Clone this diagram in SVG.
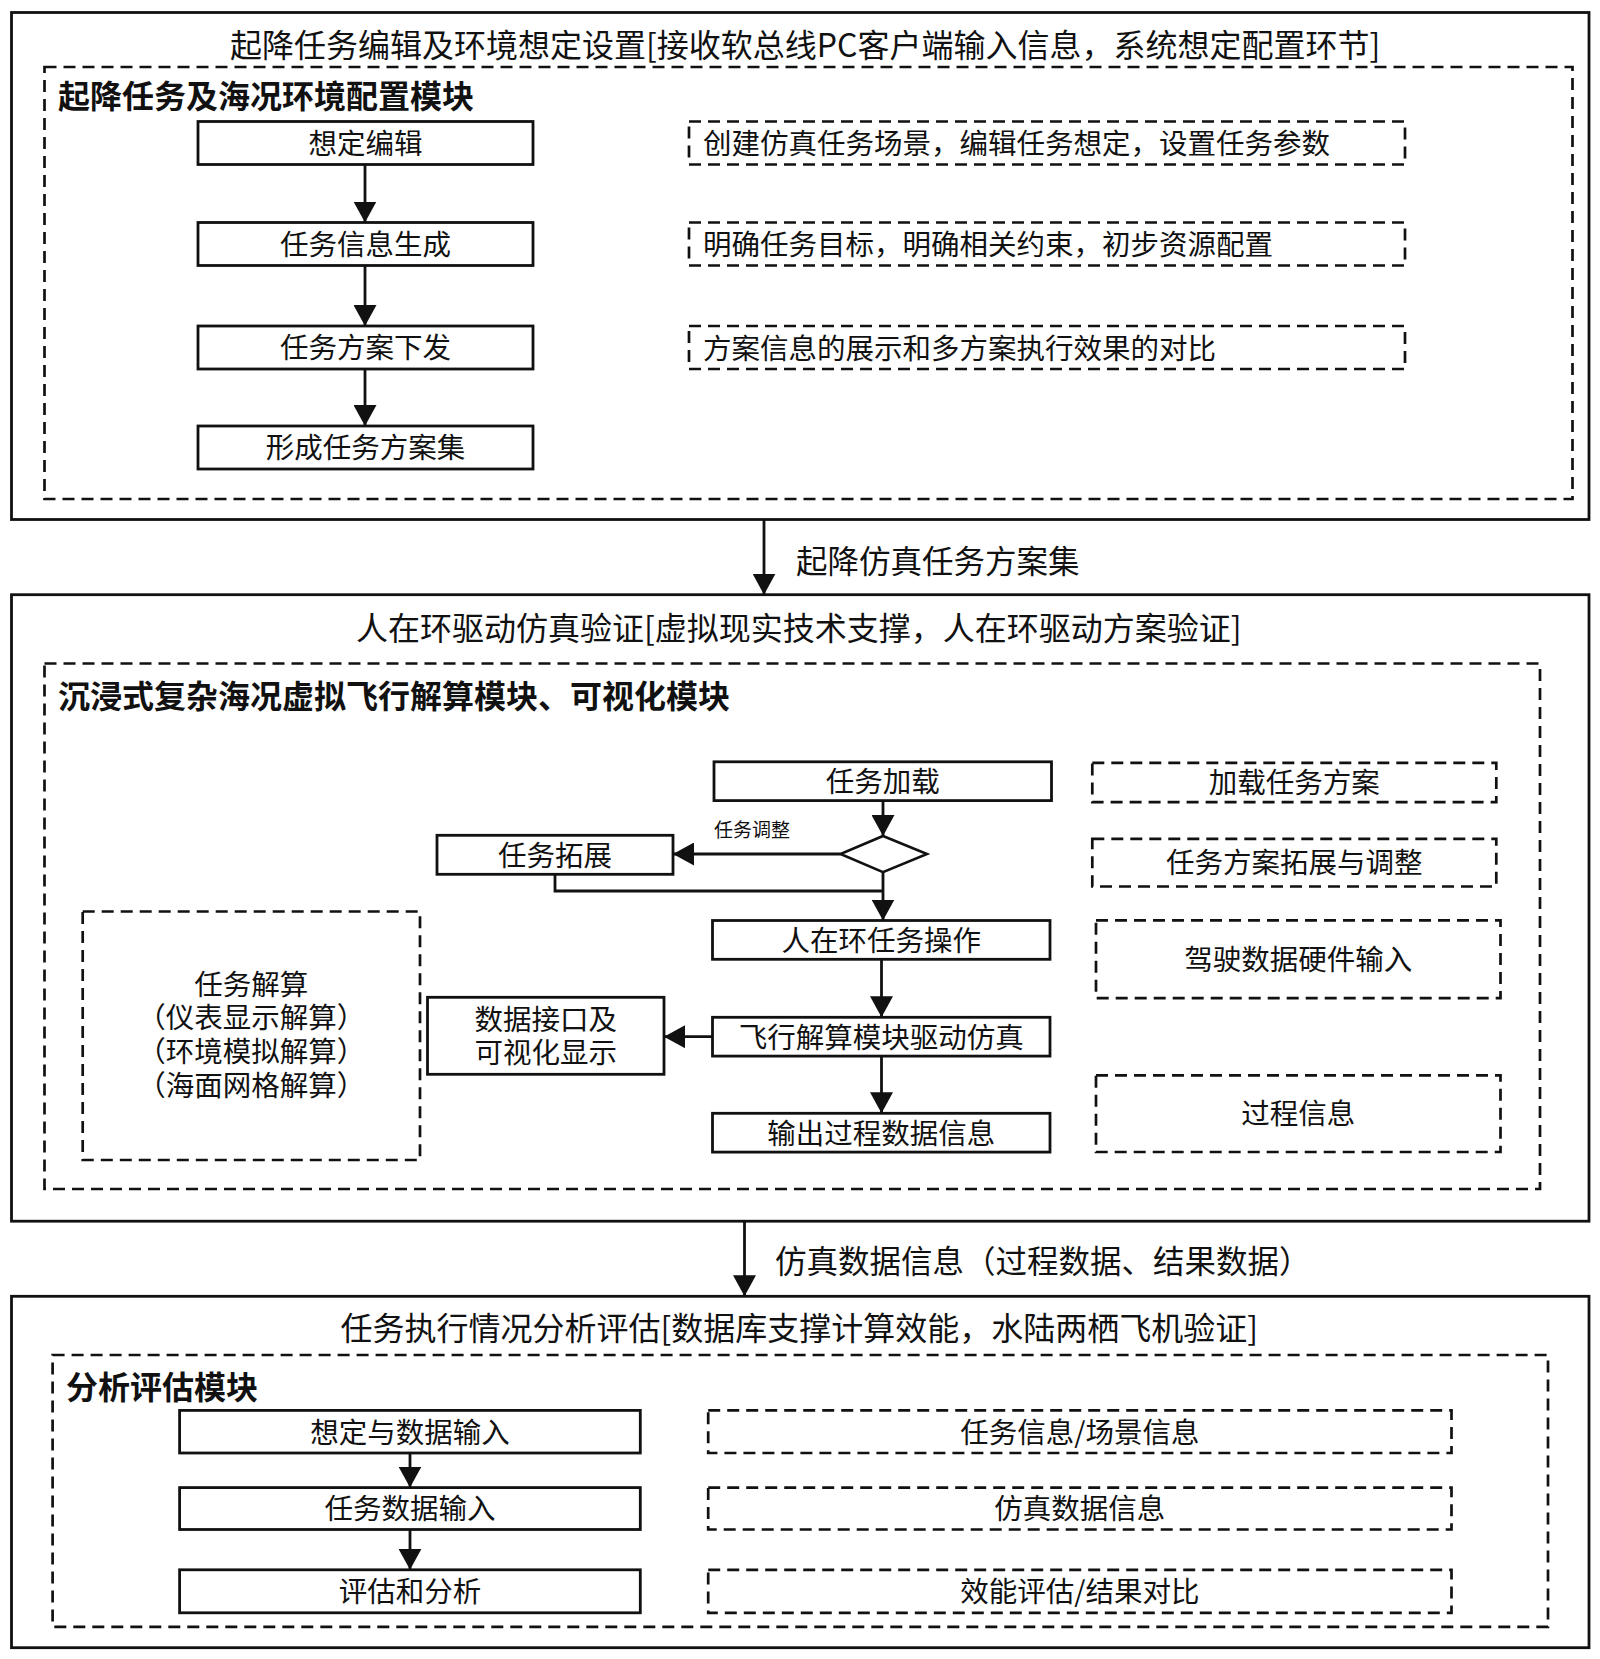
<svg xmlns="http://www.w3.org/2000/svg" width="1600" height="1659" viewBox="0 0 1600 1659">
<defs>
<style>
text{font-family:"Noto Sans CJK SC","Noto Sans",sans-serif;fill:#111;}
.sec{fill:#fff;stroke:#111;stroke-width:2.8;}
.box{fill:#fff;stroke:#111;stroke-width:2.8;}
.dash{fill:none;stroke:#111;stroke-width:2.7;stroke-dasharray:12 7;}
.line{fill:none;stroke:#111;stroke-width:2.8;}
.t32{font-size:32px;}
.b32{font-size:32px;font-weight:bold;}
.t28{font-size:28.5px;text-anchor:middle;}
.t30{font-size:28.5px;}
.t31{font-size:31.5px;}
.t19{font-size:19px;}
</style>
<marker id="ah" markerUnits="userSpaceOnUse" markerWidth="22" markerHeight="23" viewBox="0 0 22 23" refX="21" refY="11.5" orient="auto">
<path d="M0,0 L21,11.5 L0,23 z" fill="#111"/>
</marker>
</defs>
<rect width="1600" height="1659" fill="#fff"/>

<!-- Section 1 -->
<g id="sec1">
<rect class="sec" x="11.5" y="12.5" width="1577.5" height="507"/>
<text class="t32" x="230" y="56.7">起降任务编辑及环境想定设置[接收软总线PC客户端输入信息，系统想定配置环节]</text>
<rect class="dash" x="44.5" y="67" width="1528" height="432"/>
<text class="b32" x="58" y="108.2">起降任务及海况环境配置模块</text>
</g>
<g id="n1a"><rect class="box" x="198" y="121.5" width="335" height="43"/><text class="t28" x="365.5" y="153.8">想定编辑</text></g>
<g id="n1b"><rect class="box" x="198" y="222.5" width="335" height="43"/><text class="t28" x="365.5" y="254.8">任务信息生成</text></g>
<g id="n1c"><rect class="box" x="198" y="326" width="335" height="43"/><text class="t28" x="365.5" y="358.3">任务方案下发</text></g>
<g id="n1d"><rect class="box" x="198" y="426" width="335" height="43"/><text class="t28" x="365.5" y="458.3">形成任务方案集</text></g>
<g id="r1a"><rect class="dash" x="689" y="121.5" width="716" height="43"/><text class="t30" x="703" y="154">创建仿真任务场景，编辑任务想定，设置任务参数</text></g>
<g id="r1b"><rect class="dash" x="689" y="222.5" width="716" height="43"/><text class="t30" x="703" y="255">明确任务目标，明确相关约束，初步资源配置</text></g>
<g id="r1c"><rect class="dash" x="689" y="326" width="716" height="43"/><text class="t30" x="703" y="358.5">方案信息的展示和多方案执行效果的对比</text></g>

<!-- Section 2 -->
<g id="sec2">
<rect class="sec" x="11.5" y="594.7" width="1577.5" height="626.5"/>
<text class="t32" x="356" y="640.2">人在环驱动仿真验证[虚拟现实技术支撑，人在环驱动方案验证]</text>
<rect class="dash" x="44.5" y="663.5" width="1495.5" height="525.5"/>
<text class="b32" x="58" y="708.2">沉浸式复杂海况虚拟飞行解算模块、可视化模块</text>
</g>
<g id="n2load"><rect class="box" x="714" y="761.8" width="337.5" height="38.8"/><text class="t28" x="882.7" y="792">任务加载</text></g>
<g id="n2dec"><polygon points="883,836 927,854 883,872.2 840.5,854" fill="#fff" stroke="#111" stroke-width="2.6"/></g>
<g id="n2ext"><rect class="box" x="437" y="835.3" width="236" height="39"/><text class="t28" x="555" y="865.6">任务拓展</text></g>
<g id="n2op"><rect class="box" x="712.5" y="920.5" width="337.5" height="38.8"/><text class="t28" x="881.2" y="950.7">人在环任务操作</text></g>
<g id="n2fly"><rect class="box" x="712.5" y="1017.3" width="337.5" height="38.8"/><text class="t28" x="881.2" y="1047.5">飞行解算模块驱动仿真</text></g>
<g id="n2out"><rect class="box" x="712.5" y="1113.3" width="337.5" height="38.8"/><text class="t28" x="881.2" y="1143.5">输出过程数据信息</text></g>
<g id="n2vis"><rect class="box" x="427.5" y="997.3" width="236.5" height="77"/><text class="t28" x="545.7" y="1030.3">数据接口及<tspan x="545.7" dy="32.5">可视化显示</tspan></text></g>
<g id="n2calc"><rect class="dash" x="82.7" y="911.5" width="337.3" height="248.5"/>
<text class="t28" x="251.3" y="994.6">任务解算<tspan x="251.3" dy="33.5">（仪表显示解算）</tspan><tspan x="251.3" dy="34.3">（环境模拟解算）</tspan><tspan x="251.3" dy="33.5">（海面网格解算）</tspan></text></g>
<g id="r2a"><rect class="dash" x="1092.3" y="762.9" width="404" height="39.3"/><text class="t28" x="1294.3" y="793.3">加载任务方案</text></g>
<g id="r2b"><rect class="dash" x="1092.3" y="838.8" width="404" height="47.7"/><text class="t28" x="1294.3" y="873.4">任务方案拓展与调整</text></g>
<g id="r2c"><rect class="dash" x="1096" y="920.4" width="404.5" height="77.7"/><text class="t28" x="1298.3" y="970">驾驶数据硬件输入</text></g>
<g id="r2d"><rect class="dash" x="1096" y="1075.3" width="404.5" height="76.7"/><text class="t28" x="1298.3" y="1124.4">过程信息</text></g>

<!-- Section 3 -->
<g id="sec3">
<rect class="sec" x="11.5" y="1296.3" width="1577.5" height="351.4"/>
<text class="t32" x="340.5" y="1340.4">任务执行情况分析评估[数据库支撑计算效能，水陆两栖飞机验证]</text>
<rect class="dash" x="52.6" y="1355" width="1495.4" height="271.9"/>
<text class="b32" x="66" y="1399.2">分析评估模块</text>
</g>
<g id="n3a"><rect class="box" x="179.6" y="1410.4" width="460.7" height="42.6"/><text class="t28" x="410" y="1442.5">想定与数据输入</text></g>
<g id="n3b"><rect class="box" x="179.6" y="1487.6" width="460.7" height="41.9"/><text class="t28" x="410" y="1519.3">任务数据输入</text></g>
<g id="n3c"><rect class="box" x="179.6" y="1569.8" width="460.7" height="43"/><text class="t28" x="410" y="1602.1">评估和分析</text></g>
<g id="r3a"><rect class="dash" x="708.2" y="1410.4" width="743.3" height="42.6"/><text class="t28" x="1079.8" y="1442.5">任务信息/场景信息</text></g>
<g id="r3b"><rect class="dash" x="708.2" y="1487.6" width="743.3" height="41.9"/><text class="t28" x="1079.8" y="1519.3">仿真数据信息</text></g>
<g id="r3c"><rect class="dash" x="708.2" y="1569.8" width="743.3" height="43"/><text class="t28" x="1079.8" y="1602.1">效能评估/结果对比</text></g>

<!-- Connectors -->
<g id="connectors">
<line class="line" x1="365" y1="164.5" x2="365" y2="222.5" marker-end="url(#ah)"/>
<line class="line" x1="365" y1="265.5" x2="365" y2="326" marker-end="url(#ah)"/>
<line class="line" x1="365" y1="369" x2="365" y2="426" marker-end="url(#ah)"/>
<line class="line" x1="764" y1="519.5" x2="764" y2="594.7" marker-end="url(#ah)"/>
<text class="t31" x="796" y="573">起降仿真任务方案集</text>
<line class="line" x1="883" y1="800.6" x2="883" y2="836" marker-end="url(#ah)"/>
<line class="line" x1="840.5" y1="854" x2="673" y2="854" marker-end="url(#ah)"/>
<text class="t19" x="714" y="837.2">任务调整</text>
<polyline class="line" points="555,874.3 555,891 883,891"/>
<line class="line" x1="883" y1="872.2" x2="883" y2="920.5" marker-end="url(#ah)"/>
<line class="line" x1="881.5" y1="959.3" x2="881.5" y2="1017.3" marker-end="url(#ah)"/>
<line class="line" x1="881.5" y1="1056.1" x2="881.5" y2="1113.3" marker-end="url(#ah)"/>
<line class="line" x1="712.5" y1="1036.7" x2="664" y2="1036.7" marker-end="url(#ah)"/>
<line class="line" x1="744.5" y1="1221.2" x2="744.5" y2="1296.3" marker-end="url(#ah)"/>
<text class="t31" x="775" y="1273">仿真数据信息（过程数据、结果数据）</text>
<line class="line" x1="410" y1="1453" x2="410" y2="1487.6" marker-end="url(#ah)"/>
<line class="line" x1="410" y1="1529.5" x2="410" y2="1569.8" marker-end="url(#ah)"/>
</g>
</svg>
